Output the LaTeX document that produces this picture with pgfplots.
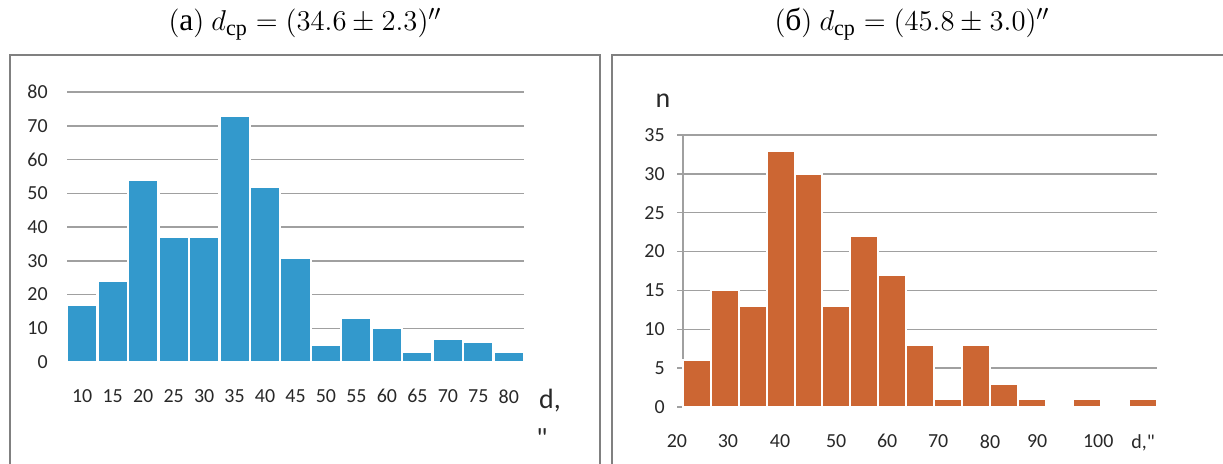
\documentclass[border=0pt]{standalone}
\usepackage{amsmath}
\usepackage{fontspec}
\setmainfont{Carlito}
\usepackage{pgfplots}
\pgfplotsset{compat=1.18}
\newfontfamily\calibri{Carlito}
\newfontfamily\cyrserif{Liberation Serif}
\newcommand\cyrcm[1]{{\cyrserif #1}}
\newcommand\tickfont{\calibri\fontsize{10}{12}\selectfont}
\newcommand\bigfont{\calibri\fontsize{14}{17}\selectfont}
\newcommand\titlefont{\fontsize{15.8}{19}\selectfont}
\definecolor{barblue}{RGB}{51,153,204}
\definecolor{barorange}{RGB}{204,102,51}
\definecolor{gridgray}{RGB}{160,160,160}
\definecolor{framegray}{RGB}{128,128,128}
\definecolor{ticktext}{RGB}{40,40,40}
\begin{document}
\begin{tikzpicture}[x=0.5bp,y=-0.5bp]
\useasboundingbox (0,0) rectangle (1223,464);
\draw[framegray, line width=1bp] (10,55) rectangle (600,490);
\draw[framegray, line width=1bp] (612,55) rectangle (1250,490);
\node at (305,24) {\titlefont $(\text{\cyrcm{а}})\ d_{\text{\cyrcm{ср}}} = (34.6 \pm 2.3)''$};
\node at (912,24) {\titlefont $(\text{\cyrcm{б}})\ d_{\text{\cyrcm{ср}}} = (45.8 \pm 3.0)''$};

\begin{axis}[
  at={(33.5bp,-181bp)}, anchor=south west,
  scale only axis, width=228.5bp, height=135bp,
  xmin=0, xmax=15, ymin=0, ymax=80,
  ytick={0,10,...,80},
  xtick={0.5,1.5,...,14.5},
  xticklabels={10,15,20,25,30,35,40,45,50,55,60,65,70,75,80},
  axis line style={draw=none}, major tick length=0pt,
  ymajorgrids, grid style={gridgray, line width=0.75bp},
  tick label style={font=\tickfont, text=ticktext},
  xticklabel style={anchor=north, inner sep=0pt, yshift=-13.5bp},
  yticklabel style={anchor=east, inner sep=0pt, xshift=-9.5bp},
  /pgf/number format/assume math mode=true,
  clip=false,
]
\addplot[ybar, bar width=1, bar shift=0, fill=barblue, draw=white, line width=1.2bp]
 coordinates {(0.5,17) (1.5,24) (2.5,54) (3.5,37) (4.5,37) (5.5,73) (6.5,52) (7.5,31)
 (8.5,5) (9.5,13) (10.5,10) (11.5,3) (12.5,7) (13.5,6) (14.5,3)};
\end{axis}

\begin{axis}[
  at={(341.5bp,-203.5bp)}, anchor=south west,
  scale only axis, width=237bp, height=136bp,
  xmin=0, xmax=17, ymin=0, ymax=35,
  ytick={0,5,...,35},
  xtick={1.61,3.48,5.49,7.32,9.15,11.01,12.70,14.89,16.5},
  xticklabels={30,40,50,60,70,80,90,100,{d,"}},
  axis lines=left,
  x axis line style={draw=none},
  y axis line style={-, draw=gridgray, line width=0.75bp},
  xtick style={draw=none},
  ytick style={draw=gridgray, line width=0.75bp},
  tick align=outside, major tick length=3bp,
  ymajorgrids, grid style={gridgray, line width=0.75bp},
  tick label style={font=\tickfont, text=ticktext},
  xticklabel style={anchor=north, inner sep=0pt, yshift=-10.5bp},
  yticklabel style={anchor=east, inner sep=0pt, xshift=-6bp},
  /pgf/number format/assume math mode=true,
  clip=false,
]
\addplot[ybar, bar width=1, bar shift=0, fill=barorange, draw=white, line width=1bp]
 coordinates {(0.5,6) (1.5,15) (2.5,13) (3.5,33) (4.5,30) (5.5,13) (6.5,22) (7.5,17)
 (8.5,8) (9.5,1) (10.5,8) (11.5,3) (12.5,1) (13.5,0) (14.5,1) (15.5,0) (16.5,1)};
\node[font=\tickfont, text=ticktext, anchor=north, inner sep=0pt, yshift=-13.5bp] at (axis cs:-0.22,0) {20};
\end{axis}

\node[font=\bigfont, text=ticktext] at (550,401) {d,};
\node[font=\bigfont, text=ticktext, anchor=north, inner sep=0pt] at (542,428) {"};
\node[font=\bigfont, text=ticktext] at (663,101) {n};
\end{tikzpicture}
\end{document}
